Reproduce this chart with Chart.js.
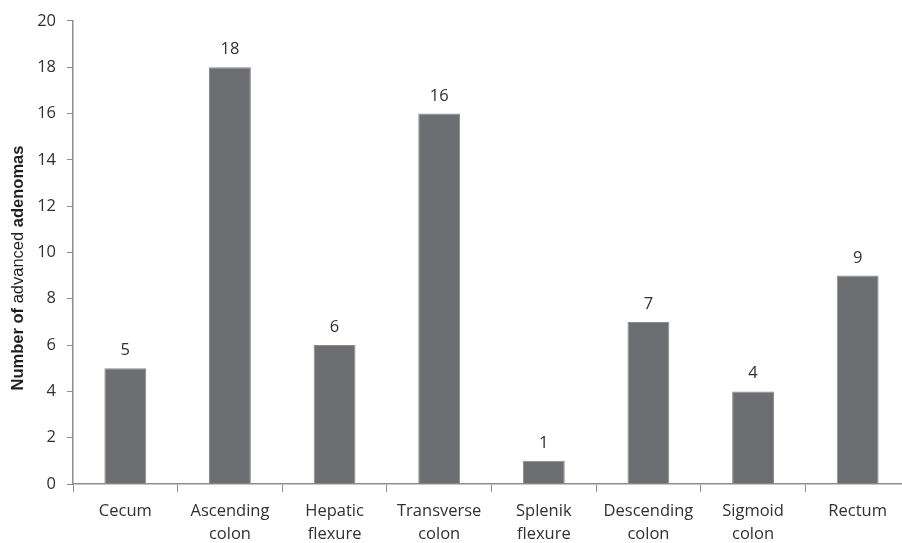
<!DOCTYPE html>
<html>
<head>
<meta charset="utf-8">
<script src="https://cdn.jsdelivr.net/npm/chart.js@4.4.1/dist/chart.umd.min.js"></script>
<style>
html,body{margin:0;padding:0;background:#fff;overflow:hidden;width:902px;height:543px;}
#wrap{width:910px;height:543px;}
canvas{display:block;}
</style>
</head>
<body>
<div id="wrap"><canvas id="c" width="910" height="543"></canvas></div>
<script>
const categories = [["Cecum"], ["Ascending", "colon"], ["Hepatic", "flexure"], ["Transverse", "colon"], ["Splenik", "flexure"], ["Descending", "colon"], ["Sigmoid", "colon"], ["Rectum"]];
const adenomaCounts = [5, 18, 6, 16, 1, 7, 4, 9];
const yTicks = [0, 2, 4, 6, 8, 10, 12, 14, 16, 18, 20];
const yTitleParts = [["Number of ", "bold"], ["advanced ", "normal"], ["adenomas", "bold"]];

const FONT = '"Open Sans", Lato, sans-serif';
const TEXT = '#303030';
const AXIS = '#8e8e8e';

const valueLabels = {
  id: 'valueLabels',
  afterDatasetsDraw(chart) {
    const ctx = chart.ctx;
    const meta = chart.getDatasetMeta(0);
    ctx.save();
    ctx.font = '16.5px ' + FONT;
    ctx.fillStyle = TEXT;
    ctx.textAlign = 'center';
    ctx.textBaseline = 'alphabetic';
    meta.data.forEach((bar, i) => {
      ctx.fillText(String(adenomaCounts[i]), bar.x, bar.y - 13);
    });
    ctx.restore();
  }
};

const yTitle = {
  id: 'yTitle',
  afterDraw(chart) {
    const ctx = chart.ctx;
    ctx.save();
    ctx.fillStyle = '#1e1e1e';
    const fonts = yTitleParts.map(p => p[1] + ' 16.5px "Liberation Sans", Arial, sans-serif');
    let total = 0;
    const widths = yTitleParts.map((p, i) => { ctx.font = fonts[i]; const w = ctx.measureText(p[0]).width; total += w; return w; });
    ctx.translate(18, 268);
    ctx.rotate(-Math.PI / 2);
    ctx.textBaseline = 'middle';
    ctx.textAlign = 'left';
    let x = -total / 2;
    yTitleParts.forEach((p, i) => { ctx.font = fonts[i]; ctx.fillText(p[0], x, 0); x += widths[i]; });
    ctx.restore();
  }
};

new Chart(document.getElementById('c'), {
  type: 'bar',
  data: {
    labels: categories,
    datasets: [{
      data: adenomaCounts,
      backgroundColor: '#6d6e72',
      borderColor: '#8a8a8c',
      borderWidth: 1,
      categoryPercentage: 1,
      barPercentage: 0.4
    }]
  },
  options: {
    responsive: false,
    animation: false,
    devicePixelRatio: 1,
    layout: { padding: { top: 18, left: 0, right: 0, bottom: 0 } },
    plugins: { legend: { display: false }, tooltip: { enabled: false } },
    scales: {
      x: {
        offset: true,
        grid: { display: true, offset: true, drawOnChartArea: false, drawTicks: true, tickLength: 8, color: AXIS, lineWidth: 1 },
        border: { display: true, color: AXIS, width: 1.5 },
        ticks: { color: TEXT, font: { family: FONT, size: 16.5, lineHeight: 1.4 }, padding: 8, maxRotation: 0, autoSkip: false },
        afterFit(s) { s.height = 59; }
      },
      y: {
        min: 0, max: 20,
        afterBuildTicks(s) { s.ticks = yTicks.map(v => ({ value: v })); },
        grid: { display: true, drawOnChartArea: false, drawTicks: true, tickLength: 6, color: AXIS, lineWidth: 1 },
        border: { display: true, color: AXIS, width: 1.5 },
        ticks: { color: TEXT, font: { family: FONT, size: 16.5 }, padding: 11 },
        afterFit(s) { s.width = 73; }
      }
    }
  },
  plugins: [valueLabels, yTitle]
});
</script>
</body>
</html>
